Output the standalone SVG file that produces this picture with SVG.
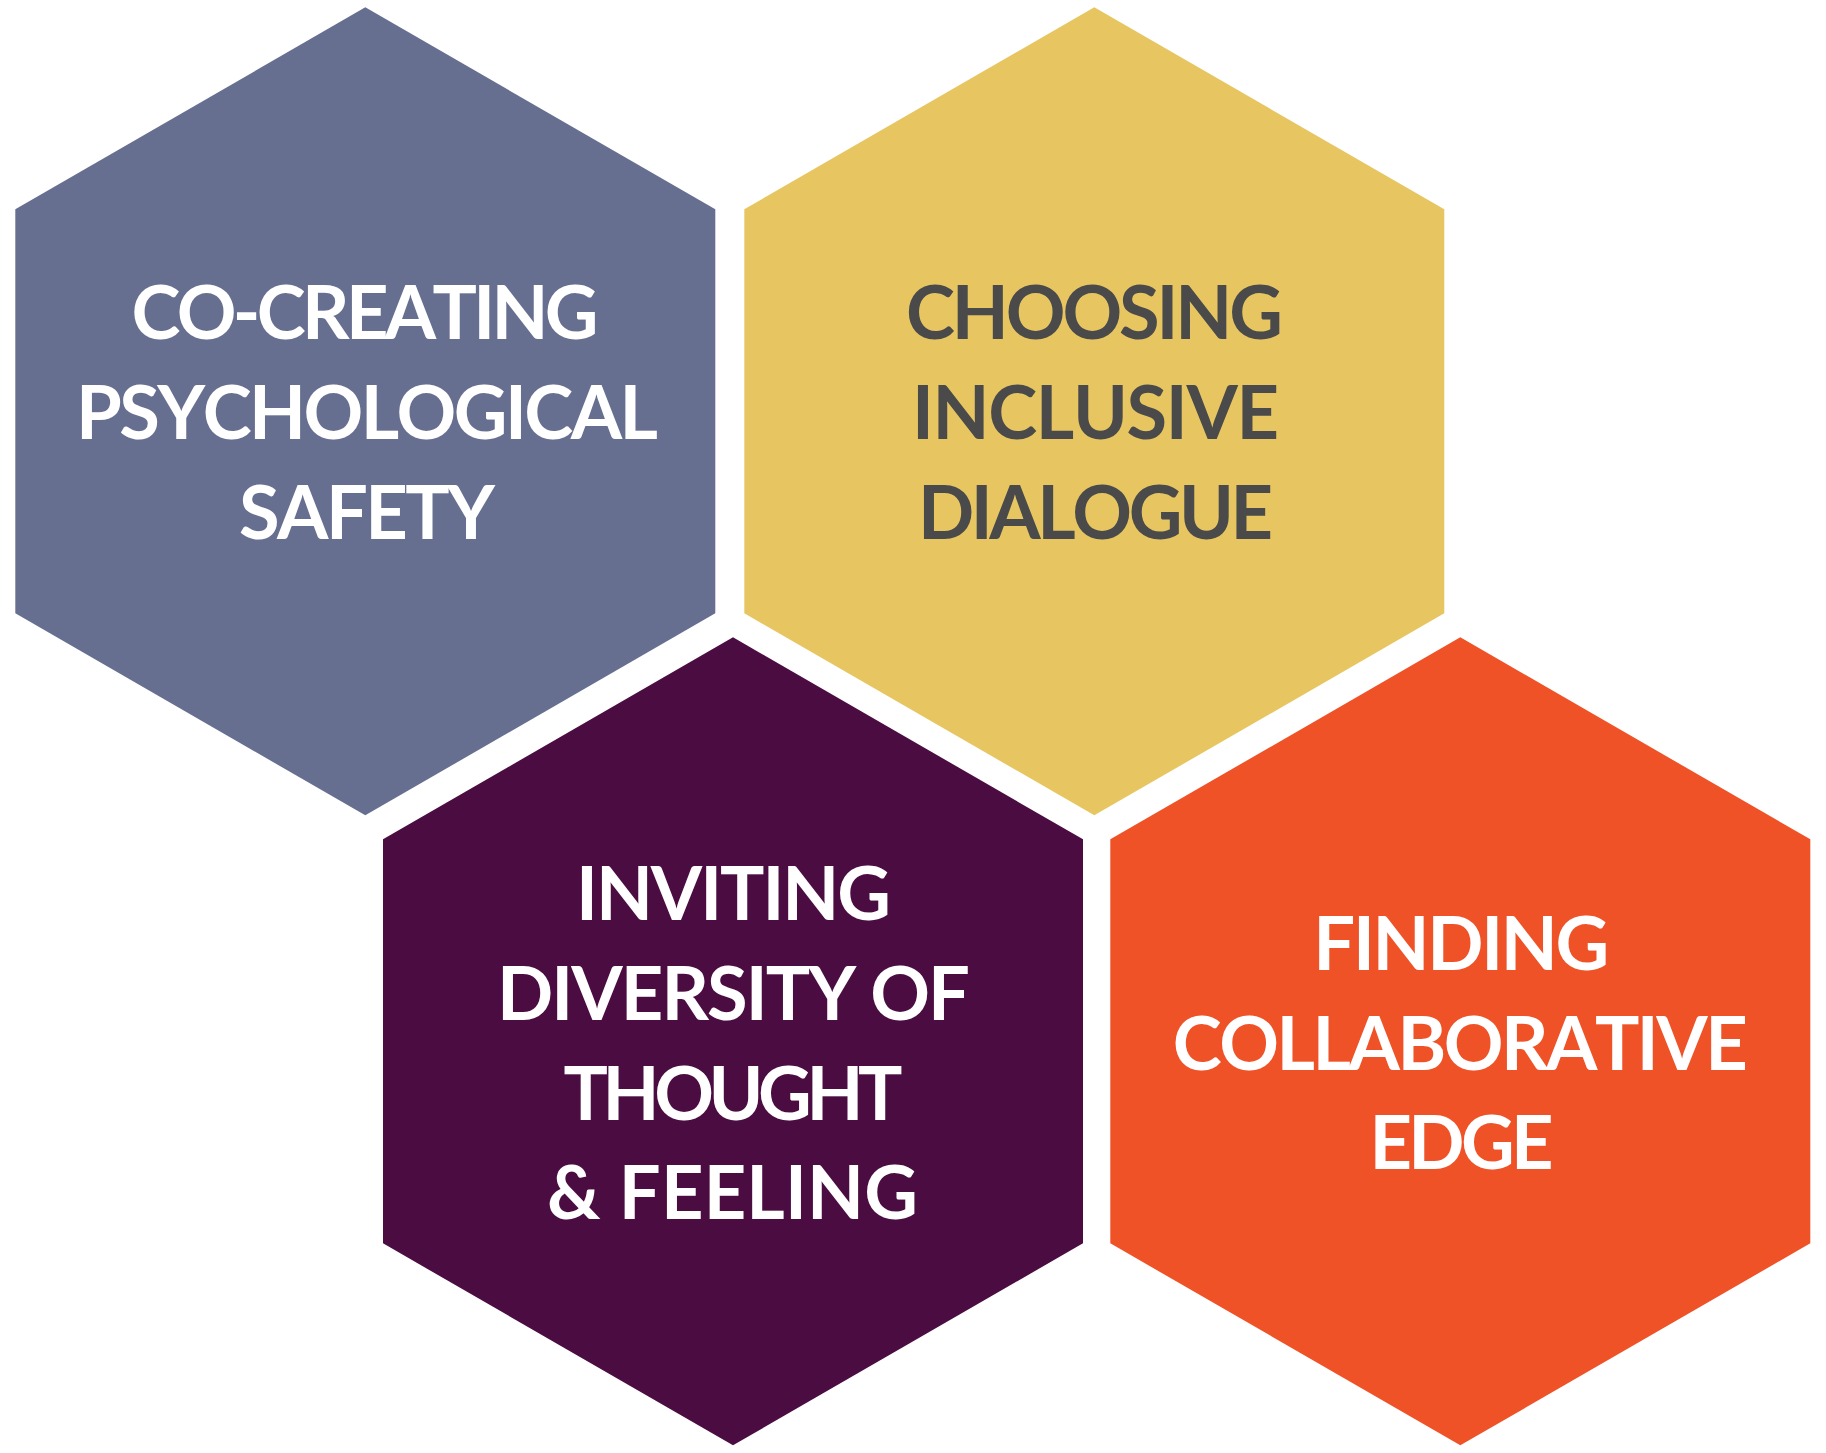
<svg xmlns="http://www.w3.org/2000/svg" xmlns:xlink="http://www.w3.org/1999/xlink" width="1826" height="1453" viewBox="0 0 1826 1453">
<style>
.lbl{font-family:"Lato","Noto Sans","Liberation Sans",sans-serif;font-weight:700;font-size:74px;text-anchor:middle;font-kerning:none;font-feature-settings:"kern" 0}
.w{fill:#ffffff}
.d{fill:#4a4a4a}
</style>
<defs>
<polygon id="hex" points="0,-404 350,-202 350,202 0,404 -350,202 -350,-202"/>
</defs>
<rect width="1826" height="1453" fill="#ffffff"/>
<g id="node-safety">
<use xlink:href="#hex" href="#hex" transform="translate(365.3,411.3)" fill="#676f91"/>
<text class="lbl w" x="365" y="339" textLength="467" lengthAdjust="spacing">CO-CREATING</text>
<text class="lbl w" x="367" y="439" textLength="582" lengthAdjust="spacing">PSYCHOLOGICAL</text>
<text class="lbl w" x="367" y="539" textLength="256" lengthAdjust="spacing">SAFETY</text>
</g>
<g id="node-dialogue">
<use xlink:href="#hex" href="#hex" transform="translate(1094.3,411.3)" fill="#e7c662"/>
<text class="lbl d" x="1094.5" y="339" textLength="377" lengthAdjust="spacing">CHOOSING</text>
<text class="lbl d" x="1095.5" y="439" textLength="367" lengthAdjust="spacing">INCLUSIVE</text>
<text class="lbl d" x="1095.5" y="539" textLength="355" lengthAdjust="spacing">DIALOGUE</text>
</g>
<g id="node-diversity">
<use xlink:href="#hex" href="#hex" transform="translate(733,1041.3)" fill="#4b0c41"/>
<text class="lbl w" x="733.5" y="920" textLength="315" lengthAdjust="spacing">INVITING</text>
<text class="lbl w" x="733.5" y="1020" textLength="473" lengthAdjust="spacing">DIVERSITY OF</text>
<text class="lbl w" x="733" y="1120" textLength="339" lengthAdjust="spacing">THOUGHT</text>
<text class="lbl w" x="732.5" y="1219" textLength="371" lengthAdjust="spacing">&amp; FEELING</text>
</g>
<g id="node-edge">
<use xlink:href="#hex" href="#hex" transform="translate(1460.3,1041.3)" fill="#ef5227"/>
<text class="lbl w" x="1461.3" y="970" textLength="296" lengthAdjust="spacing">FINDING</text>
<text class="lbl w" x="1460.3" y="1070" textLength="575" lengthAdjust="spacing">COLLABORATIVE</text>
<text class="lbl w" x="1461.5" y="1169" textLength="184" lengthAdjust="spacing">EDGE</text>
</g>
<g id="connectors"/>
</svg>
